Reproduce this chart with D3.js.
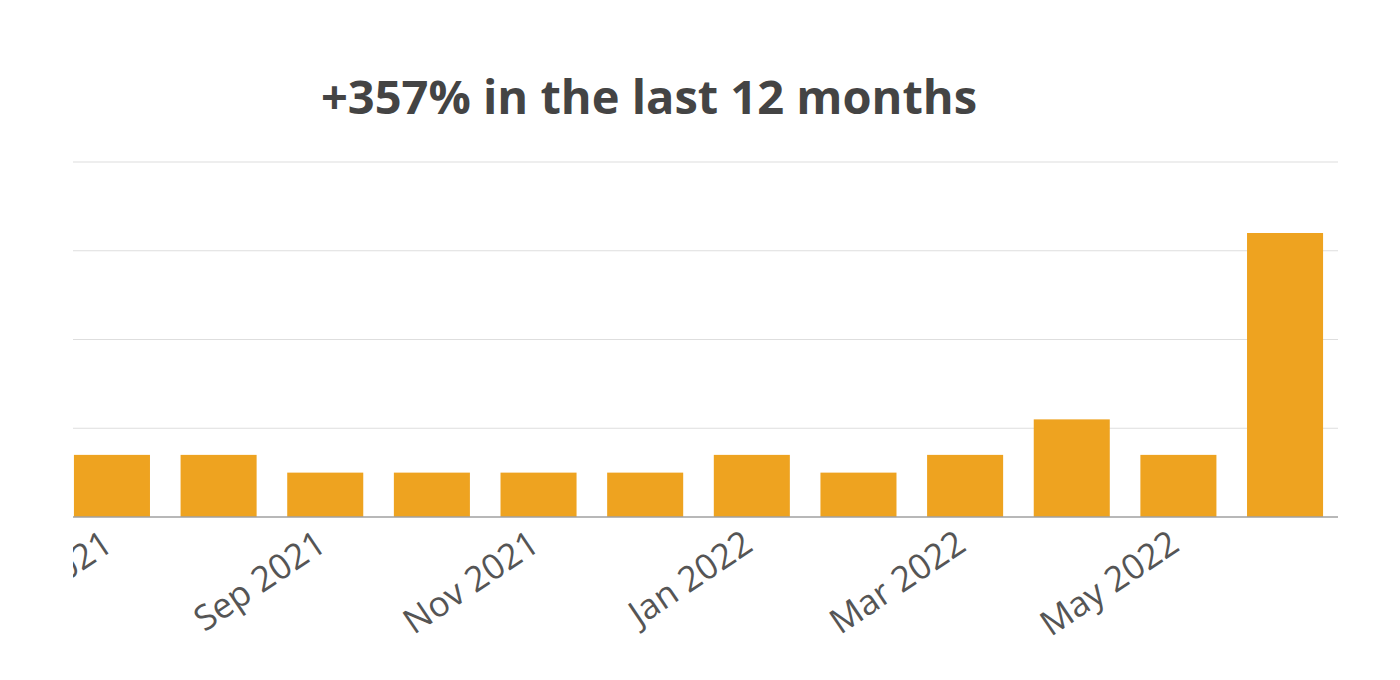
<!DOCTYPE html>
<html>
<head>
<meta charset="utf-8">
<script src="https://cdn.jsdelivr.net/npm/d3@7"></script>
<style>
  body { margin: 0; background: #fff; }
  svg { font-family: "Open Sans", sans-serif; }
</style>
</head>
<body>
<div id="chart"></div>
<script>
// monthly values, Jul 2021 - Jun 2022
let months = ["Jul 2021", "Aug 2021", "Sep 2021", "Oct 2021", "Nov 2021", "Dec 2021",
              "Jan 2022", "Feb 2022", "Mar 2022", "Apr 2022", "May 2022", "Jun 2022"]
let values = [7, 7, 5, 5, 5, 5, 7, 5, 7, 11, 7, 32]
let yTicks = [0, 10, 20, 30, 40]
let tickLabels = ["Jul 2021", "Sep 2021", "Nov 2021", "Jan 2022", "Mar 2022", "May 2022"]

let width = 1400
let height = 680
let plotTop = 162
let plotBottom = 517

let svg = d3.select("#chart")
    .append("svg")
    .attr("width", width)
    .attr("height", height)

// the chart is cut off on the left, like the original
svg.append("defs").append("clipPath")
    .attr("id", "clip")
    .append("rect")
    .attr("x", 73).attr("y", 0)
    .attr("width", width - 73).attr("height", height)

svg.append("text")
    .attr("x", 649)
    .attr("y", 114)
    .attr("text-anchor", "middle")
    .style("font-size", "47px")
    .style("font-weight", "bold")
    .style("fill", "#444")
    .text("+357% in the last 12 months")

let x = d3.scaleBand()
    .domain(months)
    .range([59, 1338])
    .paddingInner(0.287)
    .paddingOuter(0.14)

let y = d3.scaleLinear()
    .domain([0, 40])
    .range([plotBottom, plotTop])

let g = svg.append("g").attr("clip-path", "url(#clip)")

g.selectAll(".grid")
    .data(yTicks.slice(1))
    .enter()
    .append("line")
    .attr("x1", 59).attr("x2", 1338)
    .attr("y1", d => y(d)).attr("y2", d => y(d))
    .attr("stroke", "#dedede")
    .attr("stroke-width", 1.2)

g.selectAll(".bar")
    .data(values)
    .enter()
    .append("rect")
    .attr("x", (d, i) => x(months[i]))
    .attr("y", d => y(d))
    .attr("width", x.bandwidth())
    .attr("height", d => y(0) - y(d))
    .attr("fill", "#eea320")

g.append("line")
    .attr("x1", 59).attr("x2", 1338)
    .attr("y1", y(0)).attr("y2", y(0))
    .attr("stroke", "#a0a0a0")
    .attr("stroke-width", 1.5)

g.selectAll(".tick")
    .data(tickLabels)
    .enter()
    .append("text")
    .attr("transform", d => `translate(${x(d) + x.bandwidth() / 2 + 3}, 549) rotate(-34)`)
    .attr("text-anchor", "end")
    .style("font-size", "35px")
    .style("fill", "#555")
    .text(d => d)
</script>
</body>
</html>
